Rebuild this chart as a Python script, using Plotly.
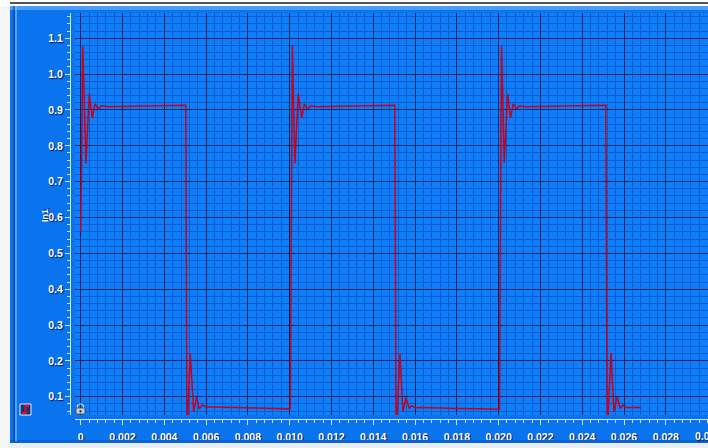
import plotly.graph_objects as go

# Sampled channel In1 (time in seconds)
time_s = [
    0.00000, 0.00010, 0.00025, 0.00041, 0.00056, 0.00068, 0.00084, 0.00100,
    0.00130, 0.00200, 0.00300, 0.00400, 0.00503,
    0.00508, 0.00513, 0.00524, 0.00541, 0.00555, 0.00567, 0.00582, 0.00600,
    0.00630, 0.00700, 0.00800, 0.00900, 0.01003,
    0.01013, 0.01025, 0.01041, 0.01058, 0.01070, 0.01086, 0.01100, 0.01130,
    0.01200, 0.01300, 0.01400, 0.01503,
    0.01509, 0.01514, 0.01528, 0.01542, 0.01557, 0.01572, 0.01585, 0.01600,
    0.01630, 0.01700, 0.01800, 0.01900, 0.02004,
    0.02014, 0.02027, 0.02043, 0.02057, 0.02070, 0.02086, 0.02100, 0.02130,
    0.02200, 0.02300, 0.02400, 0.02513,
    0.02519, 0.02524, 0.02538, 0.02552, 0.02567, 0.02582, 0.02595, 0.02610,
    0.02640, 0.02680,
]
in1 = [
    0.560, 1.078, 0.751, 0.945, 0.877, 0.917, 0.903, 0.912,
    0.909, 0.910, 0.911, 0.912, 0.913,
    0.048, 0.050, 0.222, 0.058, 0.100, 0.066, 0.077, 0.071,
    0.071, 0.070, 0.068, 0.067, 0.066,
    1.081, 0.751, 0.945, 0.877, 0.917, 0.903, 0.911, 0.909,
    0.910, 0.911, 0.912, 0.913,
    0.048, 0.050, 0.221, 0.058, 0.097, 0.068, 0.075, 0.069,
    0.070, 0.068, 0.067, 0.066, 0.065,
    1.078, 0.753, 0.945, 0.878, 0.917, 0.904, 0.911, 0.909,
    0.910, 0.911, 0.912, 0.913,
    0.048, 0.050, 0.222, 0.058, 0.100, 0.067, 0.076, 0.070,
    0.070, 0.070,
]

x_tick_vals = [0.000, 0.002, 0.004, 0.006, 0.008, 0.010, 0.012, 0.014,
               0.016, 0.018, 0.020, 0.022, 0.024, 0.026, 0.028]
x_tick_text = ["0", "0.002", "0.004", "0.006", "0.008", "0.010", "0.012", "0.014",
               "0.016", "0.018", "0.020", "0.022", "0.024", "0.026", "0.028"]
# last label sits on the right edge of the panel and is cut by it
x_edge_val, x_edge_text = 0.030, "0.030"
y_tick_vals = [0.1, 0.2, 0.3, 0.4, 0.5, 0.6, 0.7, 0.8, 0.9, 1.0, 1.1]
y_tick_text = ["0.1", "0.2", "0.3", "0.4", "0.5", "0.6", "0.7", "0.8", "0.9", "1.0", "1.1"]

W, H = 708, 448
ML, MR, MT, MB = 70, 0, 13, 29
PW, PH = W - ML - MR, H - MT - MB

BG_PLOT = "#0e7efb"
BG_PAPER = "#0a74ee"
GRID_MAJOR = "#0b2563"
GRID_MINOR = "#0a5ccb"
AXIS_COL = "#cfe5ff"
TRACE_COL = "#c8001e"


def px(x):
    return (x - ML) / PW


def py(y):
    return (H - MB - y) / PH


tick_font = dict(family="Liberation Sans, Arial, sans-serif", size=10.5, color="white",
                 weight="bold", shadow="1px 1px 1px rgba(0,10,60,0.9)")

fig = go.Figure()
fig.add_trace(go.Scatter(x=time_s, y=in1, mode="lines",
                         line=dict(color=TRACE_COL, width=1.5),
                         hoverinfo="skip", showlegend=False))

fig.update_layout(
    width=W, height=H,
    margin=dict(l=ML, r=MR, t=MT, b=MB, pad=0),
    paper_bgcolor=BG_PAPER,
    plot_bgcolor=BG_PLOT,
    showlegend=False,
    xaxis=dict(
        range=[-0.000273, 0.03002], domain=[5 / PW, 1],
        anchor="free", position=0,
        showline=True, linecolor=AXIS_COL, linewidth=1,
        ticks="outside", ticklen=5, tickcolor=AXIS_COL, tickwidth=1,
        tickvals=x_tick_vals, ticktext=x_tick_text, tickfont=tick_font,
        ticklabelstandoff=3,
        showgrid=True, gridcolor=GRID_MAJOR, gridwidth=1, zeroline=False,
        minor=dict(tick0=0, dtick=0.0004, ticks="outside", ticklen=3,
                   tickcolor=AXIS_COL, showgrid=True, gridcolor=GRID_MINOR, gridwidth=1),
    ),
    yaxis=dict(
        range=[0.0489, 1.1706], domain=[4 / PH, 1],
        anchor="free", position=0,
        showline=True, linecolor=AXIS_COL, linewidth=1,
        ticks="outside", ticklen=5, tickcolor=AXIS_COL, tickwidth=1,
        tickvals=y_tick_vals, ticktext=y_tick_text, tickfont=tick_font,
        showgrid=True, gridcolor=GRID_MAJOR, gridwidth=1, zeroline=False,
        minor=dict(tick0=0, dtick=0.02, ticks="outside", ticklen=3,
                   tickcolor=AXIS_COL, showgrid=True, gridcolor=GRID_MINOR, gridwidth=1),
    ),
)

# channel name on the vertical axis
fig.add_annotation(text="In1", xref="paper", yref="paper", x=px(38), y=py(216),
                   showarrow=False, textangle=-90,
                   font=dict(family="Liberation Sans, Arial, sans-serif", size=9,
                             color="white", weight="bold",
                             shadow="1px 1px 1px rgba(0,10,60,0.9)"))

# tick mark label on the right edge
fig.add_annotation(text=x_edge_text, xref="x", yref="paper", x=x_edge_val, y=py(436),
                   showarrow=False, xanchor="center", yanchor="middle",
                   font=tick_font)

shapes = []
# window frame around the scope panel
shapes.append(dict(type="rect", xref="paper", yref="paper", x0=px(0), x1=px(10),
                   y0=py(H), y1=py(0), fillcolor="#f4f6f8", line_width=0, layer="above"))
shapes.append(dict(type="rect", xref="paper", yref="paper", x0=px(0), x1=px(W),
                   y0=py(6), y1=py(0), fillcolor="#ffffff", line_width=0, layer="above"))
shapes.append(dict(type="line", xref="paper", yref="paper", x0=px(10), x1=px(W),
                   y0=py(3), y1=py(3), line=dict(color="#1a1a1a", width=1.5), layer="above"))
shapes.append(dict(type="rect", xref="paper", yref="paper", x0=px(10), x1=px(W),
                   y0=py(10), y1=py(6), fillcolor="#4a9dfb", line_width=0, layer="above"))
shapes.append(dict(type="rect", xref="paper", yref="paper", x0=px(10), x1=px(W),
                   y0=py(H), y1=py(443), fillcolor="#eceff2", line_width=0, layer="above"))
shapes.append(dict(type="rect", xref="paper", yref="paper", x0=px(10), x1=px(W),
                   y0=py(443), y1=py(440), fillcolor="#0863d6", line_width=0, layer="above"))
shapes.append(dict(type="line", xref="paper", yref="paper", x0=px(14), x1=px(14),
                   y0=py(441), y1=py(6), line=dict(color="#10306a", width=1), layer="above"))
shapes.append(dict(type="line", xref="paper", yref="paper", x0=px(16), x1=px(16),
                   y0=py(441), y1=py(6), line=dict(color="#9ccaff", width=1), layer="above"))

# channel colour badge
shapes.append(dict(type="rect", xref="paper", yref="paper", x0=px(20), x1=px(31),
                   y0=py(415), y1=py(404), fillcolor="#1b2f7a",
                   line=dict(color="#e8eef8", width=1), layer="above"))
shapes.append(dict(type="path", xref="paper", yref="paper",
                   path=(f"M {px(22)},{py(413)} L {px(25.5)},{py(413)} L {px(25.5)},{py(406)}"
                         f" L {px(29)},{py(406)}"),
                   line=dict(color="#e0101e", width=2), layer="above"))

# lock icon in the plot corner
shapes.append(dict(type="path", xref="paper", yref="paper",
                   path=(f"M {px(77.5)},{py(408)} L {px(77.5)},{py(405.5)} "
                         f"Q {px(80.5)},{py(402)} {px(83.5)},{py(405.5)} L {px(83.5)},{py(408)}"),
                   line=dict(color="#d0d4da", width=1.2), layer="above"))
shapes.append(dict(type="rect", xref="paper", yref="paper", x0=px(76), x1=px(85),
                   y0=py(414), y1=py(408), fillcolor="#c9cdd3",
                   line=dict(color="#3a3f48", width=0.8), layer="above"))
shapes.append(dict(type="circle", xref="paper", yref="paper", x0=px(79.5), x1=px(81.5),
                   y0=py(412.5), y1=py(410), fillcolor="#2a2e35", line_width=0, layer="above"))

fig.update_layout(shapes=shapes)

fig.write_html("out.html")
